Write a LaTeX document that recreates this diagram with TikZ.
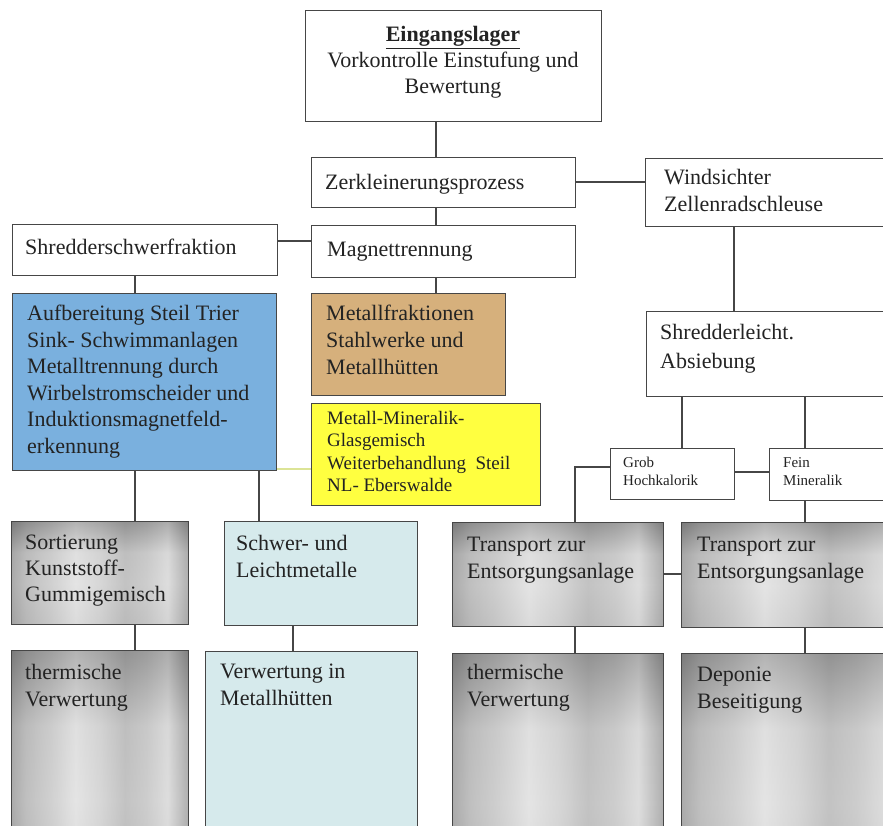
\documentclass[tikz,border=0pt]{standalone}
\usepackage{fontspec}
\setmainfont{Liberation Serif}
\usetikzlibrary{calc}
\definecolor{boxblue}{RGB}{122,176,222}
\definecolor{boxtan}{RGB}{214,176,124}
\definecolor{boxyellow}{RGB}{255,255,64}
\definecolor{boxcyan}{RGB}{214,234,236}
\definecolor{linegray}{RGB}{70,70,70}
\definecolor{txt}{RGB}{35,35,35}
\definecolor{yline}{RGB}{220,228,150}
\pgfdeclarehorizontalshading{metal}{100bp}{color(0bp)=(black!50); color(25bp)=(black!50); color(29bp)=(black!38); color(36bp)=(black!28); color(43bp)=(black!16); color(50bp)=(black!24); color(57bp)=(black!36); color(63bp)=(black!30); color(69bp)=(black!20); color(75bp)=(black!48); color(100bp)=(black!48)}
\pgfdeclareverticalshading{metalv}{100bp}{color(0bp)=(black!10); color(25bp)=(black!10); color(45bp)=(white); color(60bp)=(black!5); color(72bp)=(black!45); color(75bp)=(black!55); color(100bp)=(black!55)}
\tikzset{
  box/.style={draw=linegray, line width=1.4pt, rectangle, inner sep=0pt, anchor=north west},
  metalbox/.style={box, shading=metal,
    path picture={\shade[shading=metalv, opacity=0.35] (path picture bounding box.north west) rectangle (path picture bounding box.south east);}},
  lbl/.style={anchor=north west, inner sep=0pt, align=left, text=txt, font=\fontsize{22}{27}\selectfont},
  smalllbl/.style={lbl, font=\fontsize{15}{18}\selectfont},
  yellbl/.style={lbl, font=\fontsize{19}{22.5}\selectfont},
  conn/.style={draw=linegray, line width=1.4pt},
}
\begin{document}
\begin{tikzpicture}[x=1pt,y=-1pt]
\useasboundingbox (0,0) rectangle (883,825);
\fill[white] (0,0) rectangle (883,825);
\clip (0,0) rectangle (883,825);

% boxes
\node[box, fill=white, minimum width=296pt, minimum height=111pt] (eing) at (305,10) {};
\node[box, fill=white, minimum width=264pt, minimum height=50pt] (zerk) at (311,157) {};
\node[box, fill=white, minimum width=260pt, minimum height=68pt] (wind) at (645,158) {};
\node[box, fill=white, minimum width=265pt, minimum height=51pt] (schwer) at (12,224) {};
\node[box, fill=white, minimum width=264pt, minimum height=52pt] (magnet) at (311,225) {};
\node[box, fill=boxblue, minimum width=264pt, minimum height=177pt] (blue) at (12,293) {};
\node[box, fill=boxtan, minimum width=194pt, minimum height=102pt] (tan) at (311,293) {};
\node[box, fill=boxyellow, minimum width=229pt, minimum height=102pt] (yellow) at (311,403) {};
\node[box, fill=white, minimum width=260pt, minimum height=85pt] (leicht) at (646,311) {};
\node[box, fill=white, minimum width=124pt, minimum height=51pt] (grob) at (610,448) {};
\node[box, fill=white, minimum width=140pt, minimum height=52pt] (fein) at (769,448) {};
\node[metalbox, minimum width=177pt, minimum height=103pt] (sort) at (11,521) {};
\node[box, fill=boxcyan, minimum width=193pt, minimum height=104pt] (swl) at (224,521) {};
\node[metalbox, minimum width=211pt, minimum height=104pt] (tr1) at (452,522) {};
\node[metalbox, minimum width=230pt, minimum height=105pt] (tr2) at (681,522) {};
\node[metalbox, minimum width=177pt, minimum height=250pt] (th1) at (11,650) {};
\node[box, fill=boxcyan, minimum width=212pt, minimum height=250pt] (verw) at (205,651) {};
\node[metalbox, minimum width=211pt, minimum height=250pt] (th2) at (452,653) {};
\node[metalbox, minimum width=230pt, minimum height=250pt] (dep) at (681,653) {};

% texts
\node[lbl, anchor=north, align=center, font=\fontsize{22}{26}\selectfont] (teing) at (453,26) {\underline{\textbf{Eingangslager}}\\Vorkontrolle Einstufung und\\Bewertung};
\node[lbl] (tzerk) at (325,174) {Zerkleinerungsprozess};
\node[lbl] (twind) at (664,169) {Windsichter\\Zellenradschleuse};
\node[lbl] (tschwer) at (25,239) {Shredderschwerfraktion};
\node[lbl] (tmagnet) at (327,242) {Magnettrennung};
\node[lbl, font=\fontsize{22}{26.5}\selectfont] (tblue) at (27,305) {Aufbereitung Steil Trier\\Sink- Schwimmanlagen\\Metalltrennung durch\\Wirbelstromscheider und\\Induktionsmagnetfeld-\\erkennung};
\node[lbl] (ttan) at (326,305) {Metallfraktionen\\Stahlwerke und\\Metallhütten};
\node[yellbl] (tyellow) at (327,411) {Metall-Mineralik-\\Glasgemisch\\Weiterbehandlung~ Steil\\NL- Eberswalde};
\node[lbl, font=\fontsize{22}{29}\selectfont] (tleicht) at (660,324) {Shredderleicht.\\Absiebung};
\node[smalllbl] (tgrob) at (623,457) {Grob\\Hochkalorik};
\node[smalllbl] (tfein) at (783,457) {Fein\\Mineralik};
\node[lbl, font=\fontsize{22}{26}\selectfont] (tsort) at (25,535) {Sortierung\\Kunststoff-\\Gummigemisch};
\node[lbl] (tswl) at (236,535) {Schwer- und\\Leichtmetalle};
\node[lbl] (ttr1) at (467,537) {Transport zur\\Entsorgungsanlage};
\node[lbl] (ttr2) at (697,537) {Transport zur\\Entsorgungsanlage};
\node[lbl] (tth1) at (25,664) {thermische\\Verwertung};
\node[lbl] (tverw) at (220,664) {Verwertung in\\Metallhütten};
\node[lbl] (tth2) at (467,664) {thermische\\Verwertung};
\node[lbl] (tdep) at (697,667) {Deponie\\Beseitigung};

% connector positions
\coordinate (xa) at (436,0);
\coordinate (xb) at (135,0);
\coordinate (xc) at (734,0);
\coordinate (xd) at (682,0);
\coordinate (xe) at (805,0);
\coordinate (xf) at (575,0);
\coordinate (xg) at (259,0);
\coordinate (xh) at (293,0);
\coordinate (ya) at (0,182);
\coordinate (yb) at (0,241);
\coordinate (yc) at (0,472);
\coordinate (yd) at (0,467);
\coordinate (ye) at (0,469);
\coordinate (yf) at (0,574);

% connectors
\draw[conn] (eing.south -| xa) -- (zerk.north -| xa);
\draw[conn] (zerk.south -| xa) -- (magnet.north -| xa);
\draw[conn] (zerk.east |- ya) -- (wind.west |- ya);
\draw[conn] (schwer.east |- yb) -- (magnet.west |- yb);
\draw[conn] (schwer.south -| xb) -- (blue.north -| xb);
\draw[conn] (magnet.south -| xa) -- (tan.north -| xa);
\draw[conn] (wind.south -| xc) -- (leicht.north -| xc);
\draw[conn] (leicht.south -| xd) -- (grob.north -| xd);
\draw[conn] (leicht.south -| xe) -- (fein.north -| xe);
\draw[conn] (grob.east |- yc) -- (fein.west |- yc);
\draw[conn] (grob.west |- yd) -| (tr1.north -| xf);
\draw[conn] (fein.south -| xe) -- (tr2.north -| xe);
\draw[conn] (blue.south -| xb) -- (sort.north -| xb);
\draw[conn] (blue.south -| xg) -- (swl.north -| xg);
\draw[line width=2pt, draw=yline] (blue.east |- ye) -- (yellow.west |- ye);
\draw[conn] (tr1.east |- yf) -- (tr2.west |- yf);
\draw[conn] (sort.south -| xb) -- (th1.north -| xb);
\draw[conn] (swl.south -| xh) -- (verw.north -| xh);
\draw[conn] (tr1.south -| xf) -- (th2.north -| xf);
\draw[conn] (tr2.south -| xe) -- (dep.north -| xe);
\end{tikzpicture}
\end{document}
